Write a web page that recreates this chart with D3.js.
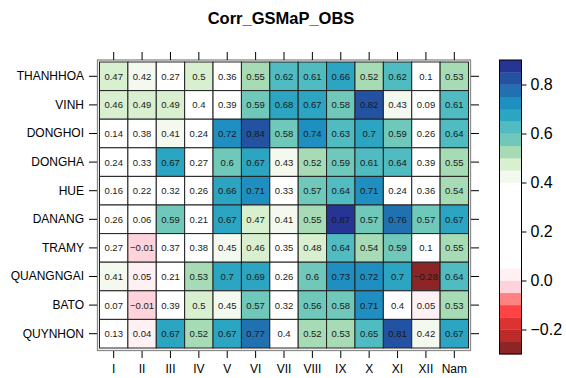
<!DOCTYPE html>
<html>
<head>
<meta charset="utf-8">
<script src="https://cdn.jsdelivr.net/npm/d3@7"></script>
<style>
  body { margin: 0; background: #fff; }
  svg { font-family: "Liberation Sans", Arial, sans-serif; }
</style>
</head>
<body>
<div id="chart"></div>
<script>
const width = 566
const height = 378

const months = ["I", "II", "III", "IV", "V", "VI", "VII", "VIII", "IX", "X", "XI", "XII", "Nam"]
const stations = ["THANHHOA", "VINH", "DONGHOI", "DONGHA", "HUE", "DANANG", "TRAMY", "QUANGNGAI", "BATO", "QUYNHON"]

// correlation per station, Jan..Dec then whole year
const thanhhoa  = [0.47, 0.42, 0.27, 0.5, 0.36, 0.55, 0.62, 0.61, 0.66, 0.52, 0.62, 0.1, 0.53]
const vinh      = [0.46, 0.49, 0.49, 0.4, 0.39, 0.59, 0.68, 0.67, 0.58, 0.82, 0.43, 0.09, 0.61]
const donghoi   = [0.14, 0.38, 0.41, 0.24, 0.72, 0.84, 0.58, 0.74, 0.63, 0.7, 0.59, 0.26, 0.64]
const dongha    = [0.24, 0.33, 0.67, 0.27, 0.6, 0.67, 0.43, 0.52, 0.59, 0.61, 0.64, 0.39, 0.55]
const hue       = [0.16, 0.22, 0.32, 0.26, 0.66, 0.71, 0.33, 0.57, 0.64, 0.71, 0.24, 0.36, 0.54]
const danang    = [0.26, 0.06, 0.59, 0.21, 0.67, 0.47, 0.41, 0.55, 0.87, 0.57, 0.76, 0.57, 0.67]
const tramy     = [0.27, -0.01, 0.37, 0.38, 0.45, 0.46, 0.35, 0.48, 0.64, 0.54, 0.59, 0.1, 0.55]
const quangngai = [0.41, 0.05, 0.21, 0.53, 0.7, 0.69, 0.26, 0.6, 0.73, 0.72, 0.7, -0.28, 0.64]
const bato      = [0.07, -0.01, 0.39, 0.5, 0.45, 0.57, 0.32, 0.56, 0.58, 0.71, 0.4, 0.05, 0.53]
const quynhon   = [0.13, 0.04, 0.67, 0.52, 0.67, 0.77, 0.4, 0.52, 0.53, 0.65, 0.81, 0.42, 0.67]

const rows = [thanhhoa, vinh, donghoi, dongha, hue, danang, tramy, quangngai, bato, quynhon]

// colour key
const keyMin = -0.3
const keyMax = 0.9
const breaks = [-0.25, -0.2, -0.15, -0.1, -0.05, 0, 0.05, 0.1, 0.15, 0.2, 0.25, 0.3, 0.35,
  0.4, 0.45, 0.5, 0.55, 0.6, 0.65, 0.7, 0.75, 0.8, 0.85]
const keyTicks = [-0.2, 0, 0.2, 0.4, 0.6, 0.8]

const bandColors = [
  "#8c2626", "#bd2a2a", "#dd3232", "#fd4343", "#fd8383", "#ffd3dc", "#fff0f3",
  "#ffffff", "#ffffff", "#ffffff", "#ffffff", "#ffffff", "#ffffff", "#ffffff",
  "#f3f9ee", "#d8efd0", "#a7dbb5", "#70c8ba", "#50bcc2", "#2ca5c2", "#1f8fc1",
  "#2171b1", "#2352a2", "#263494"
]

// upper bound of each band is inclusive
const color = d3.scaleThreshold()
  .domain(breaks.map(b => b + 1e-9))
  .range(bandColors)

const panel = { left: 99.5, right: 468.5, top: 62, bottom: 348 }

const svg = d3.select("#chart")
  .append("svg")
  .attr("width", width)
  .attr("height", height)

svg.append("rect").attr("width", width).attr("height", height).attr("fill", "#fff")

svg.append("text")
  .attr("x", 281)
  .attr("y", 24)
  .attr("text-anchor", "middle")
  .attr("font-size", 16.5)
  .attr("font-weight", "bold")
  .text("Corr_GSMaP_OBS")

const x = d3.scaleBand().domain(months).range([panel.left, panel.right])
const y = d3.scaleBand().domain(stations).range([panel.top, panel.bottom])

const cells = []
rows.forEach((r, i) => r.forEach((v, j) => cells.push({ st: stations[i], m: months[j], v })))

const g = svg.append("g")

g.selectAll("rect.cell")
  .data(cells)
  .join("rect")
  .attr("class", "cell")
  .attr("x", d => x(d.m))
  .attr("y", d => y(d.st))
  .attr("width", x.bandwidth())
  .attr("height", y.bandwidth())
  .attr("fill", d => color(d.v))
  .attr("stroke", "#222")
  .attr("stroke-width", 1)

g.selectAll("text.val")
  .data(cells)
  .join("text")
  .attr("class", "val")
  .attr("x", d => x(d.m) + x.bandwidth() / 2)
  .attr("y", d => y(d.st) + y.bandwidth() / 2 + 3.4)
  .attr("text-anchor", "middle")
  .attr("font-size", 9.5)
  .attr("fill", "#1a1a1a")
  .text(d => d3.format("~g")(d.v).replace("-", "\u2212"))

// panel frame
svg.append("rect")
  .attr("x", 97.5)
  .attr("y", 60)
  .attr("width", 373)
  .attr("height", 290.5)
  .attr("fill", "none")
  .attr("stroke", "#8a8a8a")
  .attr("stroke-width", 1.3)

// axes: labels left and bottom, ticks only top and right
const tickStyle = sel => {
  sel.select(".domain").remove()
  sel.selectAll(".tick line").attr("stroke", "#000")
  sel.selectAll(".tick text").attr("font-size", 12).attr("font-family", "Liberation Sans, Arial, sans-serif").attr("fill", "#000")
}

svg.append("g")
  .attr("transform", "translate(97,0)")
  .call(d3.axisLeft(y).tickSize(8).tickPadding(5))
  .call(tickStyle)

svg.append("g")
  .attr("transform", "translate(471,0)")
  .call(d3.axisRight(y).tickSize(8).tickFormat(""))
  .call(tickStyle)

svg.append("g")
  .attr("transform", "translate(0,351)")
  .call(d3.axisBottom(x).tickSize(7).tickPadding(6))
  .call(tickStyle)

svg.append("g")
  .attr("transform", "translate(0,60)")
  .call(d3.axisTop(x).tickSize(8).tickFormat(""))
  .call(tickStyle)

// colour key
const key = { x: 499.5, w: 22 }
const ky = d3.scaleLinear().domain([keyMin, keyMax]).range([354, 60])
const edges = [keyMin, ...breaks, keyMax]

svg.append("g")
  .selectAll("rect")
  .data(bandColors)
  .join("rect")
  .attr("x", key.x)
  .attr("y", (c, i) => ky(edges[i + 1]))
  .attr("width", key.w)
  .attr("height", (c, i) => ky(edges[i]) - ky(edges[i + 1]) + 0.3)
  .attr("fill", c => c)

svg.append("rect")
  .attr("x", key.x)
  .attr("y", ky(keyMax))
  .attr("width", key.w)
  .attr("height", ky(keyMin) - ky(keyMax))
  .attr("fill", "none")
  .attr("stroke", "#000")
  .attr("stroke-width", 1)

svg.append("g")
  .attr("transform", `translate(${key.x + key.w},0)`)
  .call(d3.axisRight(ky).tickValues(keyTicks).tickFormat(d3.format(".1f")).tickSize(5).tickPadding(4))
  .call(sel => {
    sel.select(".domain").remove()
    sel.selectAll(".tick line").attr("stroke", "#000")
    sel.selectAll(".tick text").attr("font-size", 16).attr("font-family", "Liberation Sans, Arial, sans-serif").attr("fill", "#000")
  })
</script>
</body>
</html>
